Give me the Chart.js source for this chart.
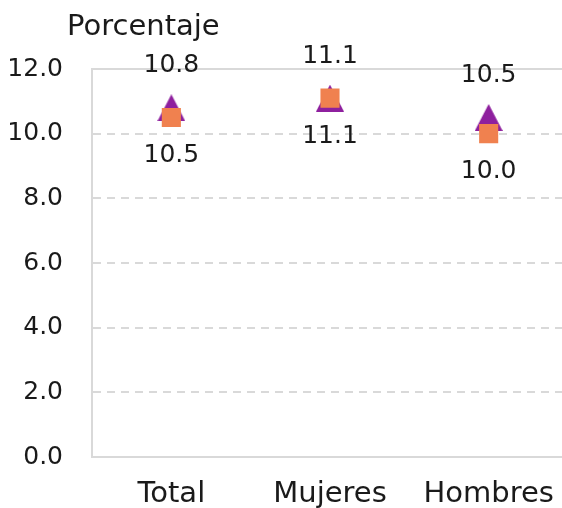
<!DOCTYPE html>
<html lang="es">
<head>
    <meta charset="UTF-8">
    <title>Porcentaje</title>
    <script src="https://cdn.jsdelivr.net/npm/chart.js"></script>
    <style>
        body { margin: 0; background: #fff; overflow: hidden; }
        /* plot area runs slightly past the right edge, as in the original */
        #wrap { width: 562px; height: 508px; overflow: hidden; }
    </style>
</head>
<body>
    <div id="wrap"><canvas id="chart" width="568" height="508"></canvas></div>
    <script>
        // data
        const categories = ['Total', 'Mujeres', 'Hombres'];
        const triangleValues = [10.8, 11.1, 10.5];
        const squareValues = [10.5, 11.1, 10.0];
        const yTicks = [0, 2, 4, 6, 8, 10, 12];

        const FONT = '"DejaVu Sans", sans-serif';
        const TEXT = '#1a1a1a';
        const GRID = '#d9d9d9';
        const PURPLE = '#8e209e';
        const ORANGE = '#f0814f';

        // triangle marker as a small canvas so it sits centred on its box
        function makeTriangle(w, h, color) {
            const c = document.createElement('canvas');
            c.width = w;
            c.height = h;
            const g = c.getContext('2d');
            g.fillStyle = color;
            g.beginPath();
            g.moveTo(w / 2, 0);
            g.lineTo(w, h);
            g.lineTo(0, h);
            g.closePath();
            g.fill();
            return c;
        }

        // value labels above / below the markers, plus the "Porcentaje" heading
        const labelPlugin = {
            id: 'valueLabels',
            afterDatasetsDraw(chart) {
                const ctx = chart.ctx;
                ctx.save();
                ctx.fillStyle = TEXT;
                ctx.font = '25px ' + FONT;
                ctx.textAlign = 'center';
                ctx.textBaseline = 'middle';
                chart.data.datasets.forEach((ds, i) => {
                    const meta = chart.getDatasetMeta(i);
                    meta.data.forEach((pt, j) => {
                        ctx.fillText(ds.data[j].toFixed(1), pt.x, pt.y + ds.labelOffset);
                    });
                });
                ctx.textAlign = 'left';
                ctx.textBaseline = 'alphabetic';
                ctx.font = '29px ' + FONT;
                ctx.fillText('Porcentaje', chart.chartArea.left - 25, chart.chartArea.top - 34);
                ctx.restore();
            }
        };

        new Chart(document.getElementById('chart'), {
            type: 'line',
            data: {
                labels: categories,
                datasets: [
                    {
                        label: 'Serie 2',
                        data: squareValues,
                        showLine: false,
                        pointStyle: 'rect',
                        pointRadius: 13.5,
                        pointHoverRadius: 13.5,
                        backgroundColor: ORANGE,
                        borderWidth: 0,
                        labelOffset: 38,
                        order: 0
                    },
                    {
                        label: 'Serie 1',
                        data: triangleValues,
                        showLine: false,
                        pointStyle: makeTriangle(28, 27, PURPLE),
                        pointRadius: 14,
                        pointHoverRadius: 14,
                        backgroundColor: PURPLE,
                        borderWidth: 0,
                        labelOffset: -42,
                        order: 1
                    }
                ]
            },
            options: {
                responsive: false,
                animation: false,
                layout: { autoPadding: false, padding: { top: 69, left: 0, right: 0, bottom: 0 } },
                plugins: {
                    legend: { display: false },
                    tooltip: { enabled: false }
                },
                scales: {
                    x: {
                        offset: true,
                        grid: { display: false, drawTicks: false },
                        border: { color: GRID, width: 2 },
                        ticks: { color: TEXT, font: { family: FONT, size: 29 }, padding: 20 },
                        afterFit: axis => {
                            axis.height = 51;
                            axis.paddingLeft = 0;
                            axis.paddingRight = 0;
                        }
                    },
                    y: {
                        min: 0,
                        max: 12,
                        afterBuildTicks: axis => { axis.ticks = yTicks.map(v => ({ value: v })); },
                        afterFit: axis => { axis.width = 92; },
                        grid: { color: GRID, lineWidth: 2, drawTicks: false },
                        border: {
                            color: GRID,
                            width: 2,
                            dash: c => (c.tick && c.tick.value > 0 && c.tick.value < 12) ? [8, 6] : []
                        },
                        ticks: {
                            color: TEXT,
                            font: { family: FONT, size: 25 },
                            padding: 29,
                            callback: v => v.toFixed(1)
                        }
                    }
                }
            },
            plugins: [labelPlugin]
        });
    </script>
</body>
</html>
